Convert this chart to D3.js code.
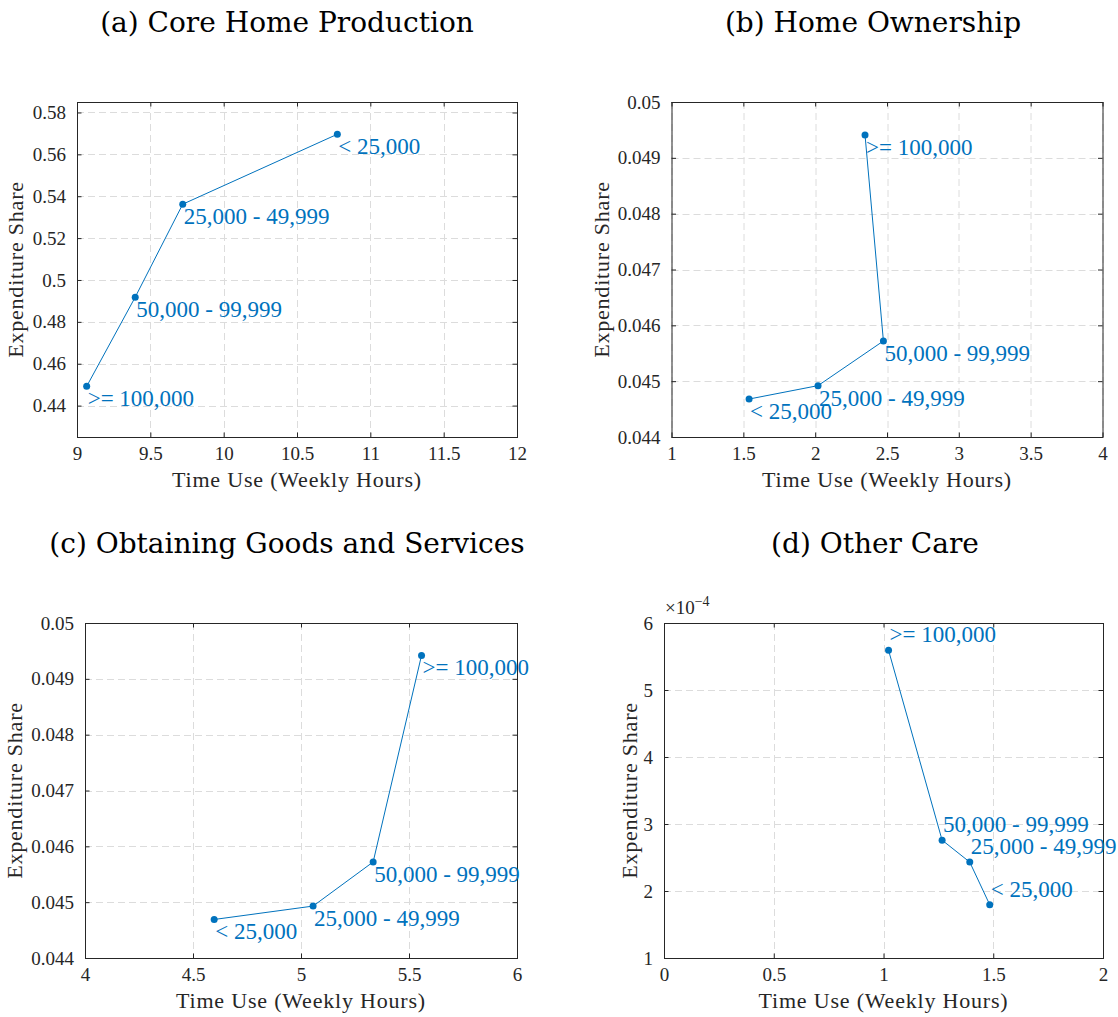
<!DOCTYPE html>
<html>
<head>
<meta charset="utf-8">
<script src="https://cdn.jsdelivr.net/npm/d3@7/dist/d3.min.js"></script>
<style>
  html, body { margin: 0; padding: 0; background: #fff; }
  svg { display: block; }
</style>
</head>
<body>
<svg id="chart" width="1118" height="1017"></svg>
<script>
// ---------------- DATA ----------------
const incomeGroups = ["< 25,000", "25,000 - 49,999", "50,000 - 99,999", ">= 100,000"];

const coreTime   = [10.775, 9.721, 9.397, 9.066];
const coreShare  = [0.5696, 0.5362, 0.4918, 0.4492];

const ownTime    = [1.540, 2.020, 2.475, 2.347];
const ownShare   = [0.04468, 0.04492, 0.04572, 0.04941];

const goodsTime  = [4.598, 5.056, 5.334, 5.558];
const goodsShare = [0.04469, 0.04493, 0.04572, 0.04942];

const careTime   = [1.484, 1.393, 1.267, 1.023];
const careShare  = [0.0001795, 0.0002431, 0.0002759, 0.0005592];

const titles = ["(a) Core Home Production", "(b) Home Ownership", "(c) Obtaining Goods and Services", "(d) Other Care"];

const coreXTicks  = [9, 9.5, 10, 10.5, 11, 11.5, 12];
const coreYTicks  = [0.44, 0.46, 0.48, 0.5, 0.52, 0.54, 0.56, 0.58];
const ownXTicks   = [1, 1.5, 2, 2.5, 3, 3.5, 4];
const shareYTicks = [0.044, 0.045, 0.046, 0.047, 0.048, 0.049, 0.05];
const goodsXTicks = [4, 4.5, 5, 5.5, 6];
const careXTicks  = [0, 0.5, 1, 1.5, 2];
const careYTicks  = [0.0001, 0.0002, 0.0003, 0.0004, 0.0005, 0.0006];

const xLabel = "Time Use (Weekly Hours)";
const yLabel = "Expenditure Share";

// ---------------- LAYOUT ----------------
const BLUE = "#0072BD";
const AXC = "#262626";
const GRID = "#dcdcdc";
const numFont = "'Liberation Serif', 'Times New Roman', serif";
const titleFont = "'DejaVu Serif', serif";

const panels = [
  { title: titles[0], x: coreTime,  y: coreShare,  xDom: [9, 12], yDom: [0.425, 0.585], xTicks: coreXTicks, yTicks: coreYTicks,
    left: 77, top: 102, w: 440, h: 335, titleX: 287, titleY: 32, ylabOff: 54, labelPos: "below", yFmt: d => String(+d.toFixed(2)) },
  { title: titles[1], x: ownTime,   y: ownShare,   xDom: [1, 4], yDom: [0.044, 0.05], xTicks: ownXTicks, yTicks: shareYTicks,
    left: 671.5, top: 102, w: 431, h: 335, titleX: 873, titleY: 32, ylabOff: 63, labelPos: "below", yFmt: d => String(+d.toFixed(3)) },
  { title: titles[2], x: goodsTime, y: goodsShare, xDom: [4, 6], yDom: [0.044, 0.05], xTicks: goodsXTicks, yTicks: shareYTicks,
    left: 85, top: 623, w: 432, h: 335, titleX: 287, titleY: 553, ylabOff: 63, labelPos: "below", yFmt: d => String(+d.toFixed(3)) },
  { title: titles[3], x: careTime,  y: careShare,  xDom: [0, 2], yDom: [0.0001, 0.0006], xTicks: careXTicks, yTicks: careYTicks,
    left: 664, top: 623, w: 439, h: 335, titleX: 875, titleY: 553, ylabOff: 27, labelPos: "above", yFmt: d => String(Math.round(d * 1e4)), exponent: true }
];

const svg = d3.select("#chart");

panels.forEach(p => {
  const g = svg.append("g").attr("transform", `translate(${p.left},${p.top})`);
  const xs = d3.scaleLinear().domain(p.xDom).range([0, p.w]);
  const ys = d3.scaleLinear().domain(p.yDom).range([p.h, 0]);

  // grid
  const grid = g.append("g");
  grid.selectAll("line.gx").data(p.xTicks).join("line")
    .attr("x1", d => Math.round(xs(d)) + 0.5).attr("x2", d => Math.round(xs(d)) + 0.5)
    .attr("y1", 0).attr("y2", p.h)
    .attr("stroke", GRID).attr("stroke-width", 1).attr("stroke-dasharray", "7,4");
  grid.selectAll("line.gy").data(p.yTicks).join("line")
    .attr("y1", d => Math.round(ys(d)) + 0.5).attr("y2", d => Math.round(ys(d)) + 0.5)
    .attr("x1", 0).attr("x2", p.w)
    .attr("stroke", GRID).attr("stroke-width", 1).attr("stroke-dasharray", "7,4");

  // axes with inward ticks (all four sides)
  const tickLen = 4.5;
  const axB = d3.axisBottom(xs).tickValues(p.xTicks).tickSizeInner(-tickLen).tickSizeOuter(0).tickPadding(10).tickFormat(d => String(d));
  const axT = d3.axisTop(xs).tickValues(p.xTicks).tickSizeInner(-tickLen).tickSizeOuter(0).tickFormat("");
  const axL = d3.axisLeft(ys).tickValues(p.yTicks).tickSizeInner(-tickLen).tickSizeOuter(0).tickPadding(11).tickFormat(p.yFmt);
  const axR = d3.axisRight(ys).tickValues(p.yTicks).tickSizeInner(-tickLen).tickSizeOuter(0).tickFormat("");

  const styleAxis = sel => {
    sel.select(".domain").remove();
    sel.selectAll(".tick line").attr("stroke", AXC).attr("stroke-width", 1);
    sel.selectAll(".tick text").attr("fill", AXC).attr("font-family", numFont).attr("font-size", 19);
  };
  g.append("g").attr("transform", `translate(0,${p.h})`).call(axB).call(styleAxis)
    .selectAll(".tick text").attr("dy", "0.71em");
  g.append("g").call(axT).call(styleAxis);
  g.append("g").call(axL).call(styleAxis);
  g.append("g").attr("transform", `translate(${p.w},0)`).call(axR).call(styleAxis);

  // box
  g.append("rect").attr("x", 0.5).attr("y", 0.5).attr("width", p.w).attr("height", p.h)
    .attr("fill", "none").attr("stroke", AXC).attr("stroke-width", 1);

  // data line and markers
  const pts = p.x.map((v, i) => ({ x: v, y: p.y[i], label: incomeGroups[i] }));
  const line = d3.line().x(d => xs(d.x)).y(d => ys(d.y));
  g.append("path").datum(pts).attr("d", line).attr("fill", "none").attr("stroke", BLUE).attr("stroke-width", 1);
  g.selectAll("circle.pt").data(pts).join("circle")
    .attr("cx", d => xs(d.x)).attr("cy", d => ys(d.y)).attr("r", 3.5).attr("fill", BLUE);

  // data labels
  g.selectAll("text.lab").data(pts).join("text")
    .attr("x", d => xs(d.x) + 1)
    .attr("y", d => ys(d.y) + (p.labelPos === "below" ? 20 : -8))
    .attr("fill", BLUE).attr("font-family", numFont).attr("font-size", 23)
    .text(d => d.label);

  // axis labels
  g.append("text").attr("x", p.w / 2).attr("y", p.h + 50).attr("text-anchor", "middle")
    .attr("fill", AXC).attr("font-family", numFont).attr("font-size", 22).attr("letter-spacing", 0.8)
    .text(xLabel);
  g.append("text").attr("transform", `translate(${-p.ylabOff},${p.h / 2}) rotate(-90)`).attr("text-anchor", "middle")
    .attr("fill", AXC).attr("font-family", numFont).attr("font-size", 22).attr("letter-spacing", 0.8)
    .text(yLabel);

  if (p.exponent) {
    const ex = g.append("text").attr("x", 1).attr("y", -9).attr("fill", AXC).attr("font-family", numFont).attr("font-size", 19);
    ex.append("tspan").text("\u00d710");
    ex.append("tspan").attr("dy", -8).attr("font-size", 14).text("\u22124");
  }

  // title
  svg.append("text").attr("x", p.titleX).attr("y", p.titleY).attr("text-anchor", "middle")
    .attr("fill", "#000").attr("font-family", titleFont).attr("font-size", 28)
    .text(p.title);
});
</script>
</body>
</html>
